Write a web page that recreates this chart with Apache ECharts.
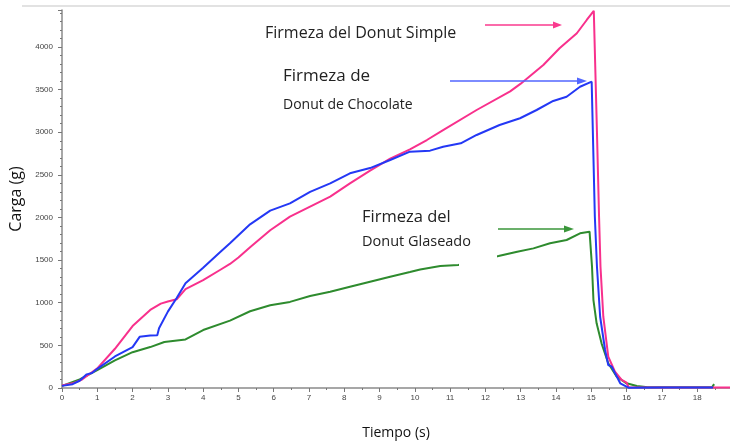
<!DOCTYPE html>
<html>
<head>
<meta charset="utf-8">
<script src="https://cdn.jsdelivr.net/npm/echarts@6/dist/echarts.min.js"></script>
<style>html,body{margin:0;padding:0;background:#fff;}#c{width:730px;height:445px;}</style>
</head>
<body>
<div id="c"></div>
<script>
// Donut Simple (pink)
var simpleT = [0,0.3,0.55,0.8,1.0,1.5,2.0,2.5,2.8,3.0,3.25,3.5,4.0,4.5,4.76,5.0,5.33,5.9,6.46,7.03,7.6,8.16,8.73,9.3,9.86,10.34,10.8,11.75,12.7,13.0,13.64,14.1,14.59,14.87,15.07,15.16,15.22,15.26,15.34,15.48,15.67,15.86,16.0,16.06,17.0,18.0,18.93];
var simpleV = [30,55,95,170,230,460,727,916,990,1015,1040,1160,1265,1390,1455,1530,1650,1850,2010,2127,2244,2400,2550,2690,2800,2909,3026,3261,3480,3570,3789,3985,4161,4317,4425,3000,2000,1423,836,367,191,94,62,8,5,5,5];
// Donut de Chocolate (blue)
var chocoT = [0,0.3,0.5,0.7,0.85,1.0,1.5,2.0,2.2,2.5,2.7,2.75,3.0,3.25,3.5,4.0,4.5,4.76,5.33,5.9,6.46,7.03,7.6,8.16,8.73,9.3,9.86,10.43,10.8,11.3,11.75,12.4,12.98,13.45,13.92,14.3,14.68,15.01,15.1,15.16,15.25,15.39,15.48,15.58,15.67,15.82,16.05,17.0,18.0,18.45];
var chocoV = [25,45,85,160,175,225,370,480,600,615,620,700,896,1055,1230,1410,1600,1697,1920,2080,2166,2300,2401,2518,2580,2674,2772,2784,2830,2870,2968,3085,3164,3261,3367,3417,3534,3593,2009,1423,836,446,270,250,176,55,4,5,5,5];
// Donut Glaseado (green)
var glaseT = [0,0.5,1.0,1.5,2.0,2.5,2.9,3.5,4.0,4.76,5.33,5.9,6.46,7.03,7.6,8.16,8.73,9.3,9.86,10.15,10.72,11.23,12.37,12.9,13.36,13.83,14.3,14.68,14.95,15.02,15.06,15.15,15.29,15.48,15.72,16.0,16.29,16.6,17.0,18.0,18.42,18.48];
var glaseV = [25,100,210,324,420,480,540,570,680,790,900,970,1010,1079,1130,1188,1247,1306,1360,1390,1431,1443,1548,1599,1638,1697,1736,1815,1834,1420,1032,759,524,290,132,55,23,10,8,8,8,45];

var xTicks = [0,18.93,1];
var yTicks = [0,4434,500];

function pairs(t, v){ return t.map(function(x,i){ return [x, v[i]]; }); }

var chart = echarts.init(document.getElementById('c'), null, {renderer:'canvas'});
var axisFont = {fontFamily:'Liberation Sans Narrow, Arial Narrow, Liberation Sans, Arial', fontSize:8, color:'#444'};
chart.setOption({
  animation:false,
  backgroundColor:'#fff',
  grid:{left:62, right:0, top:10, bottom:57},
  xAxis:{
    type:'value', min:xTicks[0], max:xTicks[1], interval:xTicks[2],
    name:'Tiempo (s)', nameLocation:'middle', nameGap:38,
    nameTextStyle:{fontFamily:'Open Sans', fontSize:14, color:'#111'},
    axisLine:{lineStyle:{color:'#8a8a8a', width:1.5}},
    axisTick:{show:true, length:4, lineStyle:{color:'#777'}},
    minorTick:{show:true, splitNumber:2, length:2, lineStyle:{color:'#777'}},
    axisLabel:Object.assign({margin:6, showMaxLabel:false, formatter:function(v){return String(v);}}, axisFont),
    splitLine:{show:false}
  },
  yAxis:{
    type:'value', min:yTicks[0], max:yTicks[1], interval:yTicks[2],
    name:'Carga (g)', nameLocation:'middle', nameGap:36, nameRotate:90,
    nameTextStyle:{fontFamily:'Open Sans', fontSize:16, color:'#111'},
    axisLine:{show:true, lineStyle:{color:'#8a8a8a', width:1.5}},
    axisTick:{show:true, length:4, lineStyle:{color:'#777'}},
    minorTick:{show:true, splitNumber:5, length:2, lineStyle:{color:'#777'}},
    axisLabel:Object.assign({margin:9, showMaxLabel:false, formatter:function(v){return String(v);}}, axisFont),
    splitLine:{show:false}
  },
  series:[
    {name:'Donut Glaseado', type:'line', data:pairs(glaseT, glaseV), showSymbol:false, lineStyle:{color:'#2e8b2e', width:2}, itemStyle:{color:'#2e8b2e'}, z:2},
    {name:'Donut Simple', type:'line', data:pairs(simpleT, simpleV), showSymbol:false, lineStyle:{color:'#f8308c', width:2}, itemStyle:{color:'#f8308c'}, z:3},
    {name:'Donut de Chocolate', type:'line', data:pairs(chocoT, chocoV), showSymbol:false, lineStyle:{color:'#2438f5', width:2}, itemStyle:{color:'#2438f5'}, z:4}
  ],
  graphic:[
    {type:'line', shape:{x1:22,y1:6,x2:730,y2:6}, style:{stroke:'#e2e2e2', lineWidth:2}, z:50},
    {type:'rect', shape:{x:459,y:252,width:38,height:16}, style:{fill:'#fff'}, z:100},
    {type:'text', left:265, top:25, style:{text:'Firmeza del Donut Simple', font:'16px "Open Sans"', fill:'#222'}, z:110},
    {type:'text', left:283, top:68, style:{text:'Firmeza de', font:'17px "Open Sans"', fill:'#222'}, z:110},
    {type:'text', left:283, top:98, style:{text:'Donut de Chocolate', font:'14px "Open Sans"', fill:'#222'}, z:110},
    {type:'text', left:362, top:209, style:{text:'Firmeza del', font:'16.5px "Open Sans"', fill:'#222'}, z:110},
    {type:'text', left:362, top:234, style:{text:'Donut Glaseado', font:'14.5px "Open Sans"', fill:'#222'}, z:110},
    {type:'line', shape:{x1:485,y1:25,x2:554,y2:25}, style:{stroke:'#fa3a8e', lineWidth:1.5}, z:110},
    {type:'polygon', shape:{points:[[562,25],[553,21.5],[553,28.5]]}, style:{fill:'#fa3a8e'}, z:110},
    {type:'line', shape:{x1:450,y1:81,x2:578,y2:81}, style:{stroke:'#5266ff', lineWidth:1.5}, z:110},
    {type:'polygon', shape:{points:[[587,81],[577,77.5],[577,84.5]]}, style:{fill:'#5266ff'}, z:110},
    {type:'line', shape:{x1:498,y1:229,x2:565,y2:229}, style:{stroke:'#3a963a', lineWidth:1.5}, z:110},
    {type:'polygon', shape:{points:[[574,229],[564,225.5],[564,232.5]]}, style:{fill:'#3a963a'}, z:110}
  ]
});
</script>
</body>
</html>
